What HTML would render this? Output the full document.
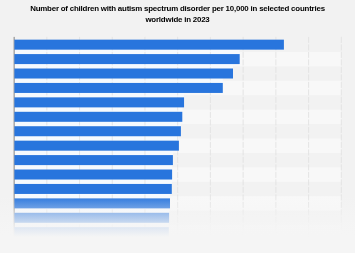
<!DOCTYPE html>
<html><head><meta charset="utf-8"><style>
html,body{margin:0;padding:0;}
body{width:355px;height:253px;background:#f2f2f2;position:relative;overflow:hidden;font-family:"Liberation Sans",sans-serif;}
.t{position:absolute;left:0;width:355px;text-align:center;font-weight:bold;font-size:7.9px;color:#000;white-space:nowrap;will-change:transform;letter-spacing:-0.2px;}
</style></head><body>
<svg width="355" height="253" viewBox="0 0 355 253" style="position:absolute;left:0;top:0">
<defs><linearGradient id="fade" gradientUnits="userSpaceOnUse" x1="0" y1="195" x2="0" y2="237">
<stop offset="0.000" stop-color="#f5f5f5" stop-opacity="0"/>
<stop offset="0.095" stop-color="#f5f5f5" stop-opacity="0.09"/>
<stop offset="0.310" stop-color="#f5f5f5" stop-opacity="0.33"/>
<stop offset="0.440" stop-color="#f5f5f5" stop-opacity="0.57"/>
<stop offset="0.667" stop-color="#f5f5f5" stop-opacity="0.79"/>
<stop offset="0.786" stop-color="#f5f5f5" stop-opacity="0.9"/>
<stop offset="1.000" stop-color="#f5f5f5" stop-opacity="1"/>
</linearGradient></defs>
<rect x="14" y="51.86" width="327.40" height="14.43" fill="#f8f8f8"/><rect x="14" y="80.72" width="327.40" height="14.43" fill="#f8f8f8"/><rect x="14" y="109.59" width="327.40" height="14.43" fill="#f8f8f8"/><rect x="14" y="138.44" width="327.40" height="14.43" fill="#f8f8f8"/><rect x="14" y="167.31" width="327.40" height="14.43" fill="#f8f8f8"/><rect x="14" y="196.16" width="327.40" height="14.43" fill="#f8f8f8"/><rect x="14" y="225.03" width="327.40" height="14.43" fill="#f8f8f8"/>
<rect x="14.4" y="49.65" width="225.30" height="4.43" fill="#f6fafe"/><rect x="14.4" y="64.08" width="218.60" height="4.43" fill="#f6fafe"/><rect x="14.4" y="78.51" width="208.40" height="4.43" fill="#f6fafe"/><rect x="14.4" y="92.94" width="169.65" height="4.43" fill="#f6fafe"/><rect x="14.4" y="107.37" width="167.90" height="4.43" fill="#f6fafe"/><rect x="14.4" y="121.80" width="166.50" height="4.43" fill="#f6fafe"/><rect x="14.4" y="136.23" width="164.50" height="4.43" fill="#f6fafe"/><rect x="14.4" y="150.66" width="158.50" height="4.43" fill="#f6fafe"/><rect x="14.4" y="165.09" width="157.70" height="4.43" fill="#f6fafe"/><rect x="14.4" y="179.52" width="157.40" height="4.43" fill="#f6fafe"/><rect x="14.4" y="193.95" width="155.60" height="4.43" fill="#f6fafe"/><rect x="14.4" y="208.38" width="154.70" height="4.43" fill="#f6fafe"/><rect x="14.4" y="222.81" width="154.40" height="4.43" fill="#f6fafe"/>
<line x1="46.82" y1="36.9" x2="46.82" y2="239.46" stroke="#e0e0e0" stroke-width="0.8" stroke-dasharray="6,1.5"/><line x1="79.54" y1="36.9" x2="79.54" y2="239.46" stroke="#e0e0e0" stroke-width="0.8" stroke-dasharray="6,1.5"/><line x1="112.26" y1="36.9" x2="112.26" y2="239.46" stroke="#e0e0e0" stroke-width="0.8" stroke-dasharray="6,1.5"/><line x1="144.98" y1="36.9" x2="144.98" y2="239.46" stroke="#e0e0e0" stroke-width="0.8" stroke-dasharray="6,1.5"/><line x1="177.70" y1="36.9" x2="177.70" y2="239.46" stroke="#e0e0e0" stroke-width="0.8" stroke-dasharray="6,1.5"/><line x1="210.42" y1="36.9" x2="210.42" y2="239.46" stroke="#e0e0e0" stroke-width="0.8" stroke-dasharray="6,1.5"/><line x1="243.14" y1="36.9" x2="243.14" y2="239.46" stroke="#e0e0e0" stroke-width="0.8" stroke-dasharray="6,1.5"/><line x1="275.86" y1="36.9" x2="275.86" y2="239.46" stroke="#e0e0e0" stroke-width="0.8" stroke-dasharray="6,1.5"/><line x1="308.58" y1="36.9" x2="308.58" y2="239.46" stroke="#e0e0e0" stroke-width="0.8" stroke-dasharray="6,1.5"/><line x1="341.30" y1="36.9" x2="341.30" y2="239.46" stroke="#e0e0e0" stroke-width="0.8" stroke-dasharray="6,1.5"/>
<line x1="14.15" y1="36.9" x2="14.15" y2="239.46" stroke="#666" stroke-width="0.8"/>
<rect x="14.4" y="39.65" width="269.50" height="10.0" fill="#2875dd"/><rect x="14.4" y="54.08" width="225.30" height="10.0" fill="#2875dd"/><rect x="14.4" y="68.51" width="218.60" height="10.0" fill="#2875dd"/><rect x="14.4" y="82.94" width="208.40" height="10.0" fill="#2875dd"/><rect x="14.4" y="97.37" width="169.65" height="10.0" fill="#2875dd"/><rect x="14.4" y="111.80" width="167.90" height="10.0" fill="#2875dd"/><rect x="14.4" y="126.23" width="166.50" height="10.0" fill="#2875dd"/><rect x="14.4" y="140.66" width="164.50" height="10.0" fill="#2875dd"/><rect x="14.4" y="155.09" width="158.50" height="10.0" fill="#2875dd"/><rect x="14.4" y="169.52" width="157.70" height="10.0" fill="#2875dd"/><rect x="14.4" y="183.95" width="157.40" height="10.0" fill="#2875dd"/><rect x="14.4" y="198.38" width="155.60" height="10.0" fill="#2875dd"/><rect x="14.4" y="212.81" width="154.70" height="10.0" fill="#2875dd"/><rect x="14.4" y="227.24" width="154.40" height="10.0" fill="#2875dd"/>
<rect x="0" y="195" width="355" height="42" fill="url(#fade)"/>
<rect x="0" y="236.9" width="355" height="16.1" fill="#f5f5f5"/>
</svg>
<div class="t" style="top:3.6px;line-height:10px">Number of children with autism spectrum disorder per 10,000 in selected countries</div>
<div class="t" style="top:14.8px;line-height:10px">worldwide in 2023</div>
</body></html>
